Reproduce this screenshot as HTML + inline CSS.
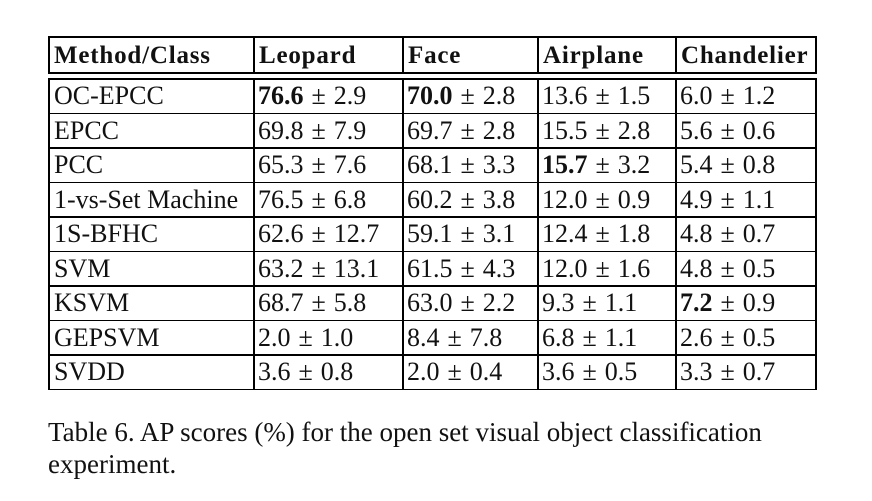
<!DOCTYPE html>
<html><head><meta charset="utf-8"><style>
body{margin:0;width:872px;height:501px;background:#fff;position:relative;font-family:"Liberation Serif",serif;color:#111;overflow:hidden}
.hl{position:absolute;left:48px;width:768px;height:1.5px;background:#000}
.vl{position:absolute;width:1.5px;background:#000}
.c{position:absolute;font-size:26px;white-space:nowrap;line-height:1}
.pm{display:inline-block;margin:0 8px}
.h{font-weight:bold;font-size:25px;letter-spacing:0.8px}
#cap{position:absolute;left:48px;top:416px;font-size:27px;line-height:32px;width:820px}
</style></head><body>
<div id="tbl"></div>
<div id="cap">Table 6. AP scores (%) for the open set visual object classification<br>experiment.</div>
<script>
const headers=["Method/Class","Leopard","Face","Airplane","Chandelier"];
const methods=["OC-EPCC","EPCC","PCC","1-vs-Set Machine","1S-BFHC","SVM","KSVM","GEPSVM","SVDD"];
const leopard=[["76.6","2.9"],["69.8","7.9"],["65.3","7.6"],["76.5","6.8"],["62.6","12.7"],["63.2","13.1"],["68.7","5.8"],["2.0","1.0"],["3.6","0.8"]];
const face=[["70.0","2.8"],["69.7","2.8"],["68.1","3.3"],["60.2","3.8"],["59.1","3.1"],["61.5","4.3"],["63.0","2.2"],["8.4","7.8"],["2.0","0.4"]];
const airplane=[["13.6","1.5"],["15.5","2.8"],["15.7","3.2"],["12.0","0.9"],["12.4","1.8"],["12.0","1.6"],["9.3","1.1"],["6.8","1.1"],["3.6","0.5"]];
const chandelier=[["6.0","1.2"],["5.6","0.6"],["5.4","0.8"],["4.9","1.1"],["4.8","0.7"],["4.8","0.5"],["7.2","0.9"],["2.6","0.5"],["3.3","0.7"]];
const bold={1:[0],2:[0],3:[2],4:[6]};
(function(){
const cols=[48,253,402,537,675,815];
const tTop=36,hb=72,rt=78,rh=34.5;
const T=document.getElementById('tbl');
function add(cls,css,txt){const d=document.createElement('div');d.className=cls;d.style.cssText=css;if(txt!==undefined)d.innerHTML=txt;T.appendChild(d);return d;}
let e;
[tTop,hb,rt].forEach(y=>{e=add('hl','top:'+y+'px');

});
for(let i=1;i<=methods.length;i++){e=add('hl','top:'+(rt+i*rh)+'px');

}
cols.forEach(x=>{e=add('vl','left:'+x+'px;top:'+tTop+'px;height:'+(hb-tTop+1.5)+'px');


e=add('vl','left:'+x+'px;top:'+rt+'px;height:'+(methods.length*rh+1.5)+'px');

});
headers.forEach((h,j)=>{e=add('c h','left:'+(cols[j]+6)+'px;top:'+(tTop+7)+'px',h);

});
const data=[null,leopard,face,airplane,chandelier];
methods.forEach((m,i)=>{const y=rt+i*rh+5;
e=add('c','left:'+(cols[0]+6)+'px;top:'+y+'px',m);


for(let j=1;j<5;j++){const v=data[j][i];const b=bold[j].includes(i);
const txt=(b?'<b>'+v[0]+'</b>':v[0])+'<span class="pm">&plusmn;</span>'+v[1];
e=add('c','left:'+(cols[j]+5)+'px;top:'+y+'px',txt);

}
});
})();
</script>
</body></html>
